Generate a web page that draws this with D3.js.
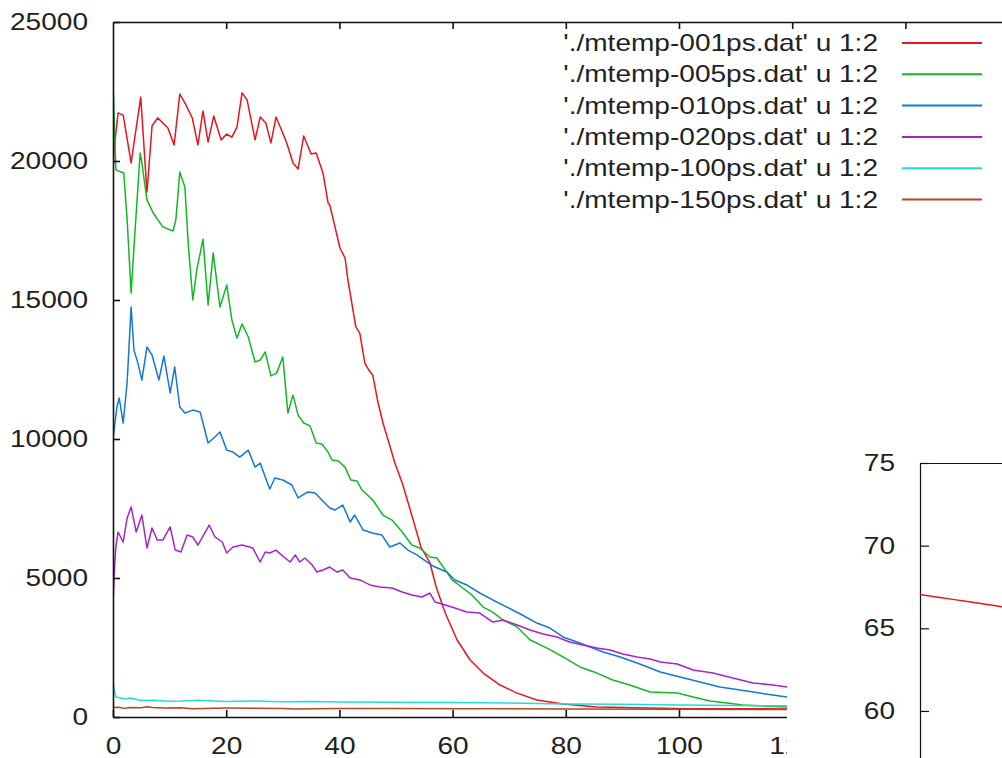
<!DOCTYPE html>
<html>
<head>
<meta charset="utf-8">
<script src="https://cdn.jsdelivr.net/npm/d3@7"></script>
<style>
  html, body { margin: 0; padding: 0; background: #fff; }
  svg { display: block; }
</style>
</head>
<body>
<svg id="chart" width="1002" height="758"></svg>
<script>
// ---------------- DATA ----------------
const legendLabels = [
  "'./mtemp-001ps.dat' u 1:2",
  "'./mtemp-005ps.dat' u 1:2",
  "'./mtemp-010ps.dat' u 1:2",
  "'./mtemp-020ps.dat' u 1:2",
  "'./mtemp-100ps.dat' u 1:2",
  "'./mtemp-150ps.dat' u 1:2"
];
const seriesColors = ["#e8141e", "#12b824", "#1478d4", "#a624cc", "#22dcdc", "#b84420"];

const xTickValues = [0, 20, 40, 60, 80, 100, 120];
const xTopTickValues = [20, 40, 60, 80, 100, 120, 140];
const yTickValues = [0, 5000, 10000, 15000, 20000, 25000];
const insetTickValues = [60, 65, 70, 75];

// 001ps
const x001 = [0, 0.2, 0.9, 1.8, 3.2, 4.9, 6.0, 6.9, 7.9, 9.7, 10.8, 11.8, 12.7, 14.0, 15.0, 15.9, 16.8, 17.8, 19.1, 20.1, 21.0, 21.9, 22.8, 23.7, 25.1, 26.0, 27.0, 27.9, 28.8, 29.9, 30.7, 31.8, 32.7, 33.7, 35.0, 35.9, 37.1, 38.0, 38.3, 40.1, 41.0, 41.5, 42.4, 42.9, 43.6, 44.5, 45.2, 45.9, 46.8, 47.7, 48.6, 49.8, 51.1, 51.9, 53.4, 54.4, 56.0, 57.1, 58.7, 60.8, 63.1, 65.4, 68.4, 71.4, 74.9, 77.2, 79.5, 85.5, 101.4, 120, 160];
const y001 = [19600, 20450, 21730, 21650, 19930, 22300, 18880, 21260, 21550, 21190, 20580, 22410, 22090, 21550, 20580, 21800, 20680, 21620, 20760, 20970, 20860, 21220, 22450, 22190, 20760, 21580, 21370, 20650, 21580, 21050, 20650, 19930, 19710, 20900, 20250, 20290, 19570, 18490, 18420, 16870, 16510, 15720, 14640, 14030, 13810, 12730, 12480, 12300, 11330, 10575, 9965, 9135, 8420, 7880, 6830, 6115, 5540, 4675, 3740, 2770, 2050, 1580, 1150, 860, 610, 540, 470, 360, 300, 290, 280];

// 005ps
const x005 = [0, 0.5, 1.9, 2.5, 3.2, 3.9, 4.8, 5.1, 6.0, 7.1, 8.8, 10.6, 11.1, 11.8, 12.7, 13.3, 14.1, 14.8, 15.9, 16.8, 17.7, 18.9, 20.1, 21.0, 21.9, 22.8, 23.9, 25.1, 26.0, 26.9, 27.9, 28.9, 30.0, 30.9, 31.8, 32.7, 33.7, 34.8, 35.9, 36.9, 38.0, 38.7, 39.8, 41.0, 42.0, 43.1, 44.0, 45.9, 47.7, 49.3, 51.1, 52.8, 54.2, 56.0, 57.2, 58.7, 59.9, 61.8, 63.4, 65.4, 67.1, 68.9, 71.4, 73.7, 76.7, 79.5, 82.5, 85.5, 88.3, 91.3, 94.9, 99.7, 102.5, 105.5, 108.5, 111.3, 119.1, 160];
const y005 = [22800, 19680, 19570, 17880, 15250, 17520, 20290, 19930, 18600, 18130, 17630, 17480, 17880, 19600, 19065, 17000, 15000, 16080, 17190, 14820, 16690, 14750, 15540, 14280, 13630, 14140, 13670, 12770, 12840, 13130, 12270, 12370, 12950, 10935, 11580, 10860, 10575, 10470, 9855, 9820, 9530, 9245, 9210, 8990, 8525, 8490, 8165, 7805, 7265, 7085, 6655, 6185, 6080, 5755, 5720, 5290, 4930, 4640, 4390, 3955, 3775, 3490, 3240, 2770, 2480, 2160, 1800, 1580, 1330, 1150, 900, 860, 720, 575, 500, 430, 360, 300];

// 010ps
const x010 = [0, 0.7, 1.1, 1.8, 2.5, 2.8, 3.2, 3.7, 4.4, 5.1, 6.0, 6.9, 8.1, 9.0, 10.1, 10.9, 11.8, 12.7, 14.1, 15.4, 16.8, 18.0, 18.9, 20.1, 21.2, 22.4, 23.9, 25.1, 26.0, 26.9, 27.7, 28.6, 30.0, 31.6, 32.7, 34.4, 35.7, 36.9, 38.3, 39.2, 40.6, 41.9, 42.7, 44.2, 45.8, 47.5, 48.9, 50.7, 52.1, 53.7, 55.5, 56.9, 59.0, 60.4, 62.5, 64.8, 67.1, 69.6, 72.3, 74.9, 77.2, 79.5, 82.0, 84.3, 86.6, 89.6, 92.6, 94.9, 96.7, 100.2, 103.7, 107.2, 110.8, 114.3, 119.1, 160];
const y010 = [10000, 11150, 11475, 10575, 12050, 13200, 14750, 13200, 12730, 12120, 13310, 13020, 12120, 12985, 11655, 12590, 11150, 10935, 11040, 10970, 9855, 10070, 10250, 9600, 9530, 9350, 9600, 8990, 9135, 8630, 8200, 8595, 8525, 8345, 7880, 8095, 8060, 7805, 7520, 7445, 7625, 7015, 7265, 6725, 6620, 6545, 6115, 6260, 6005, 5830, 5575, 5395, 5215, 4930, 4750, 4460, 4210, 3955, 3670, 3380, 3200, 2880, 2700, 2520, 2340, 2160, 1940, 1760, 1620, 1440, 1260, 1080, 970, 860, 720, 400];

// 020ps
const x020 = [0, 0.2, 0.5, 0.9, 1.8, 2.5, 3.2, 4.1, 5.1, 6.0, 6.9, 7.8, 8.8, 10.1, 11.0, 12.0, 13.1, 14.1, 15.0, 17.0, 18.0, 19.3, 20.1, 21.2, 22.8, 24.7, 26.0, 26.9, 27.7, 28.8, 30.4, 31.3, 32.2, 33.0, 33.9, 35.2, 36.0, 37.1, 38.3, 39.6, 40.6, 41.9, 43.6, 45.4, 47.1, 49.3, 51.1, 52.8, 54.6, 56.0, 56.9, 58.7, 60.4, 62.5, 64.8, 67.1, 68.9, 71.4, 73.7, 76.0, 78.4, 80.7, 83.0, 85.5, 87.8, 90.1, 92.6, 94.9, 96.7, 99.7, 102.5, 106.0, 109.5, 113.1, 116.6, 119.1, 160];
const y020 = [4030, 5110, 6115, 6655, 6295, 7160, 7555, 6655, 7265, 6080, 6800, 6365, 6365, 6835, 6005, 5935, 6545, 6475, 6185, 6905, 6475, 6295, 5900, 6115, 6185, 6080, 5575, 5935, 5900, 6005, 5720, 5575, 5830, 5575, 5720, 5470, 5215, 5290, 5395, 5215, 5290, 5000, 4930, 4750, 4675, 4640, 4495, 4390, 4315, 4460, 4135, 4030, 3920, 3775, 3740, 3415, 3490, 3310, 3130, 2985, 2880, 2700, 2590, 2480, 2410, 2265, 2160, 2085, 1980, 1905, 1690, 1580, 1400, 1225, 1150, 1080, 600];

// 100ps
const x100 = [0, 0.5, 1, 2, 3, 4, 5, 7, 10, 12, 15, 20, 25, 28, 30, 35, 40, 50, 60, 70, 80, 90, 100, 110, 120, 160];
const y100 = [1200, 720, 700, 650, 680, 640, 590, 600, 570, 575, 600, 560, 580, 560, 550, 560, 540, 530, 520, 500, 470, 460, 430, 410, 400, 380];

// 150ps
const x150 = [0, 1, 2, 3, 5, 6, 7, 9, 12, 14, 20, 30, 32, 40, 50, 60, 70, 80, 100, 120, 160];
const y150 = [340, 350, 310, 340, 330, 370, 340, 320, 330, 300, 320, 310, 290, 310, 310, 300, 300, 290, 280, 270, 260];

// inset (zoomed view, red curve)
const insetX = [0, 2, 4, 6, 8, 10, 12];
const insetY = [67.05, 66.9, 66.75, 66.6, 66.45, 66.3, 66.15];

const seriesX = [x001, x005, x010, x020, x100, x150];
const seriesY = [y001, y005, y010, y020, y100, y150];

// ---------------- LAYOUT ----------------
const svg = d3.select("#chart");
const FONT = "'Liberation Sans', Arial, sans-serif";
const FS = 23;
const SX = 1.22;
const TXT = "#222";

const pLeft = 113, pTop = 22, pBottom = 717, clipRight = 787;
const xs = d3.scaleLinear().domain([0, 160]).range([pLeft, pLeft + 160 * 5.66]);
const ys = d3.scaleLinear().domain([0, 25000]).range([pBottom, pTop]);

const defs = svg.append("defs");
defs.append("clipPath").attr("id", "plotClip")
  .append("rect").attr("x", pLeft).attr("y", pTop).attr("width", clipRight - pLeft).attr("height", pBottom - pTop);
defs.append("clipPath").attr("id", "bottomClip")
  .append("rect").attr("x", 0).attr("y", pBottom - 20).attr("width", clipRight).attr("height", 100);

function stretchText(sel) {
  sel.each(function () {
    const t = d3.select(this);
    const tx = +t.attr("x") || 0, ty = +t.attr("y") || 0;
    t.attr("x", 0).attr("y", 0)
     .attr("transform", `translate(${tx},${ty}) scale(${SX},1)`)
     .attr("fill", TXT).style("font-family", FONT).style("font-size", FS + "px");
  });
}
function styleAxis(g, w) {
  g.attr("font-family", null).attr("font-size", null);
  g.selectAll("path.domain").attr("stroke", "#111").attr("stroke-width", w);
  g.selectAll(".tick line").attr("stroke", "#111").attr("stroke-width", w);
}

// data lines
const line = d3.line().x(d => xs(d[0])).y(d => ys(d[1]));
const plot = svg.append("g").attr("clip-path", "url(#plotClip)");
seriesX.forEach((xa, i) => {
  const pts = xa.map((v, j) => [v, seriesY[i][j]]);
  plot.append("path").datum(pts)
    .attr("d", line).attr("fill", "none")
    .attr("stroke", seriesColors[i]).attr("stroke-width", 1.5)
    .attr("stroke-linejoin", "round");
});

// left axis
const gLeft = svg.append("g").attr("transform", `translate(${pLeft},0)`)
  .call(d3.axisLeft(ys).tickValues(yTickValues).tickSize(-7).tickSizeOuter(0).tickPadding(25).tickFormat(d3.format("d")));
styleAxis(gLeft, 1.6);
gLeft.selectAll(".tick text").call(stretchText);

// bottom axis (clipped on the right, as in the reference)
const gBottomWrap = svg.append("g").attr("clip-path", "url(#bottomClip)");
const gBottom = gBottomWrap.append("g").attr("transform", `translate(0,${pBottom})`)
  .call(d3.axisBottom(xs).tickValues(xTickValues).tickSize(-7).tickSizeOuter(0).tickPadding(21).tickFormat(d3.format("d")));
styleAxis(gBottom, 1.6);
gBottom.selectAll(".tick text").call(stretchText);

// top border
const gTopAxis = svg.append("g").attr("transform", `translate(0,${pTop})`)
  .call(d3.axisTop(xs).tickValues(xTopTickValues).tickSize(-7).tickSizeOuter(0).tickFormat(""));
styleAxis(gTopAxis, 1.6);

// legend
const legend = svg.append("g");
legendLabels.forEach((lab, i) => {
  const ly = 43 + i * 31.3;
  legend.append("text").attr("x", 878).attr("y", ly).attr("dy", "0.35em")
    .attr("text-anchor", "end").text(lab).call(stretchText);
  legend.append("line").attr("x1", 902).attr("x2", 982).attr("y1", ly).attr("y2", ly)
    .attr("stroke", seriesColors[i]).attr("stroke-width", 2);
});

// inset
const inLeft = 920, inTop = 463;
const yIn = d3.scaleLinear().domain([55, 75]).range([inTop + 20 * 16.53, inTop]);
const xIn = d3.scaleLinear().domain([0, 50]).range([inLeft, inLeft + 50 * 8.2]);
const gIn = svg.append("g").attr("transform", `translate(${inLeft},0)`)
  .call(d3.axisLeft(yIn).tickValues(insetTickValues).tickSize(-9).tickSizeOuter(0).tickPadding(25).tickFormat(d3.format("d")));
styleAxis(gIn, 1.2);
gIn.selectAll(".tick text").call(stretchText);
const gInTop = svg.append("g").attr("transform", `translate(0,${inTop})`)
  .call(d3.axisTop(xIn).tickValues([]).tickSizeOuter(0));
styleAxis(gInTop, 1.2);
const lineIn = d3.line().x(d => xIn(d[0])).y(d => yIn(d[1]));
svg.append("path").datum(insetX.map((v, j) => [v, insetY[j]]))
  .attr("d", lineIn).attr("fill", "none").attr("stroke", seriesColors[0]).attr("stroke-width", 1.5);
</script>
</body>
</html>
